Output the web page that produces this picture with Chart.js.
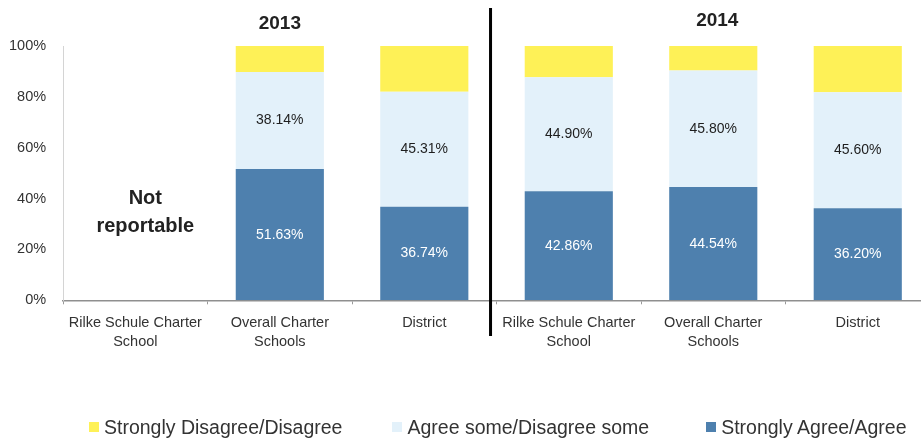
<!DOCTYPE html>
<html>
<head>
<meta charset="utf-8">
<script src="https://cdn.jsdelivr.net/npm/chart.js@4.4.0/dist/chart.umd.min.js"></script>
<style>
  body { margin: 0; background: #fff; overflow: hidden; }
  #wrap { position: relative; width: 932px; height: 441px; }
  #legend { position: absolute; left: 89px; top: 415px; display: flex; align-items: center; line-height: 24px;
            font-family: 'Liberation Sans', Arial, sans-serif; font-size: 19.5px; color: #333; }
  #legend .item { display: flex; align-items: center; white-space: nowrap; }
  #legend .item:nth-child(2) { margin-left: 50px; }
  #legend .item:nth-child(3) { margin-left: 57px; }
  #legend .box { width: 10px; height: 10px; margin-right: 5px; }
</style>
</head>
<body>
<div id="wrap">
  <canvas id="chart"></canvas>
  <div id="legend"></div>
</div>
<script>
// 类别与数据
const categories = [
    ['Rilke Schule Charter', 'School'], ['Overall Charter', 'Schools'], 'District',
    ['Rilke Schule Charter', 'School'], ['Overall Charter', 'Schools'], 'District'
];
const years = ['2013', '2014'];
const agree = [null, 51.63, 36.74, 42.86, 44.54, 36.20];
const neutral = [null, 38.14, 45.31, 44.90, 45.80, 45.60];
const disagree = [null, 10.23, 17.95, 12.24, 9.66, 18.20];
const yTicks = [0, 20, 40, 60, 80, 100];
const notReportable = ['Not', 'reportable'];

const FONT = "'Liberation Sans', Arial, sans-serif";

// 柱内数值、年份标题、分隔线
const annotate = {
    id: 'annotate',
    afterDatasetsDraw(chart) {
        const ctx = chart.ctx;
        const x = chart.scales.x;
        const y = chart.scales.y;
        ctx.save();
        ctx.textAlign = 'center';
        ctx.textBaseline = 'middle';

        [0, 1].forEach(i => {
            const meta = chart.getDatasetMeta(i);
            meta.data.forEach((bar, j) => {
                const v = chart.data.datasets[i].data[j];
                if (v == null) return;
                ctx.font = '14px ' + FONT;
                ctx.fillStyle = i === 0 ? '#ffffff' : '#1e1e1e';
                ctx.fillText(v.toFixed(2) + '%', bar.x, (bar.y + bar.base) / 2);
            });
        });

        // 年份标题
        ctx.font = 'bold 19px ' + FONT;
        ctx.fillStyle = '#222';
        ctx.fillText(years[0], x.getPixelForValue(1), 24);
        ctx.fillText(years[1], x.getPixelForValue(4) + 4, 21);

        // 无数据说明
        ctx.font = 'bold 20px ' + FONT;
        ctx.fillText(notReportable[0], x.getPixelForValue(0) + 10, y.getPixelForValue(40));
        ctx.fillText(notReportable[1], x.getPixelForValue(0) + 10, y.getPixelForValue(29));

        // 2013 / 2014 分隔线
        const mid = (x.getPixelForValue(2) + x.getPixelForValue(3)) / 2 - 6;
        ctx.strokeStyle = '#000';
        ctx.lineWidth = 3;
        ctx.beginPath();
        ctx.moveTo(mid, 8);
        ctx.lineTo(mid, 336);
        ctx.stroke();
        ctx.restore();
    }
};

const chart = new Chart(document.getElementById('chart'), {
    type: 'bar',
    data: {
        labels: categories,
        datasets: [
            { label: 'Strongly Agree/Agree', data: agree, backgroundColor: '#4e80ae' },
            { label: 'Agree some/Disagree some', data: neutral, backgroundColor: '#e3f1fa' },
            { label: 'Strongly Disagree/Disagree', data: disagree, backgroundColor: '#fef157' }
        ]
    },
    options: {
        responsive: true,
        maintainAspectRatio: false,
        animation: false,
        layout: { padding: { top: 46, left: 0, right: 2, bottom: 81 } },
        datasets: { bar: { categoryPercentage: 1, barPercentage: 0.61 } },
        plugins: { legend: { display: false }, tooltip: { enabled: false } },
        scales: {
            x: {
                stacked: true,
                grid: { offset: true, drawOnChartArea: false, drawTicks: true, tickLength: 4, color: '#999' },
                border: { color: '#8f8f8f', width: 1.5 },
                ticks: { color: '#333', font: { family: FONT, size: 14.5, lineHeight: 1.3 }, padding: 9,
                         maxRotation: 0, autoSkip: false }
            },
            y: {
                stacked: true,
                min: 0,
                max: 100,
                afterBuildTicks: axis => { axis.ticks = yTicks.map(v => ({ value: v })); },
                grid: { display: false },
                border: { color: '#d4d4d4', width: 1 },
                ticks: { color: '#333', font: { family: FONT, size: 14.5 }, padding: 9, callback: v => v + '%' }
            }
        }
    },
    plugins: [annotate]
});

// 图例（顺序与堆叠相反）
const legend = document.getElementById('legend');
chart.data.datasets.slice().reverse().forEach(ds => {
    const item = document.createElement('div');
    item.className = 'item';
    item.innerHTML = '<span class="box" style="background:' + ds.backgroundColor + '"></span>' + ds.label;
    legend.appendChild(item);
});
</script>
</body>
</html>
